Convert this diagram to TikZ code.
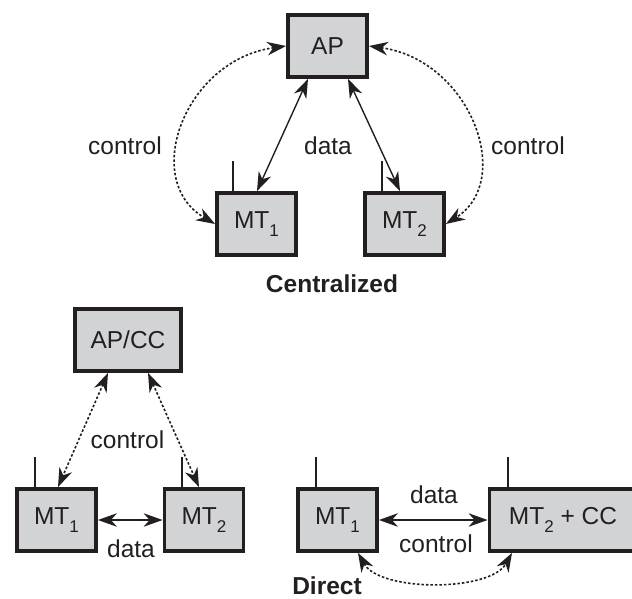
\documentclass[tikz,border=0pt]{standalone}
\usepackage{fontspec}
\setmainfont{Liberation Sans}
\usetikzlibrary{arrows.meta}
\definecolor{boxfill}{RGB}{210,211,213}
\definecolor{ink}{RGB}{35,31,32}
\newcommand\sbs[1]{\raisebox{-0.3em}{\fontsize{17}{17}\selectfont #1}}
\begin{document}
\begin{tikzpicture}[x=1pt,y=-1pt,
  font=\fontsize{24.5}{28}\selectfont,
  box/.style={draw=ink, line width=3.8pt, fill=boxfill, minimum width=79pt, minimum height=62pt, inner sep=0pt, text=ink},
  lbl/.style={anchor=base, text=ink, inner sep=0pt},
  ttl/.style={anchor=base, text=ink, inner sep=0pt, font=\fontsize{24.5}{28}\selectfont\bfseries},
  tip/.tip={Stealth[length=19pt,width=13.5pt,inset=6pt]},
  dataarrow/.style={draw=ink, line width=1.4pt, tip-tip},
  ctrl/.style={draw=ink, line width=1.6pt, dash pattern=on 2.5pt off 2pt, tip-tip},
  antenna/.style={draw=ink, line width=1.2pt}]
\useasboundingbox (0,0) rectangle (632,599);
\clip (0,0) rectangle (632,599);
% Centralized
\node[box] (AP) at (327.5,46) {AP};
\node[box] (MTa) at (256.5,224) {MT\sbs{1}};
\node[box] (MTb) at (404.5,224) {MT\sbs{2}};
\draw[antenna] ([xshift=-23.5pt]MTa.north) -- ++(0,-30);
\draw[antenna] ([xshift=-22.5pt]MTb.north) -- ++(0,-30);
\draw[dataarrow] ([xshift=-19.5pt]AP.south) -- ([xshift=0.5pt]MTa.north);
\draw[dataarrow] ([xshift=20.5pt]AP.south) -- ([xshift=-4.5pt]MTb.north);
\draw[ctrl] (AP.west) .. controls (185,60) and (140,180) .. (MTa.west);
\draw[ctrl] (AP.east) .. controls (470,60) and (515,180) .. (MTb.east);
\node[lbl] (l1) at (125,155) {control};
\node[lbl] (l2) at (328,155) {data};
\node[lbl] (l3) at (528,155) {control};
\node[ttl] (t1) at (332,292) {Centralized};
% AP/CC
\node[box, minimum width=106pt] (APCC) at (128,340) {AP/CC};
\node[box] (MTc) at (56.5,520) {MT\sbs{1}};
\node[box] (MTd) at (204,520) {MT\sbs{2}};
\draw[antenna] ([xshift=-21.5pt]MTc.north) -- ++(0,-30);
\draw[antenna] ([xshift=-22pt]MTd.north) -- ++(0,-30);
\draw[ctrl] ([xshift=-20pt]APCC.south) -- ([xshift=1.5pt]MTc.north);
\draw[ctrl] ([xshift=20pt]APCC.south) -- ([xshift=-5pt]MTd.north);
\draw[dataarrow] (MTc.east) -- (MTd.west);
\node[lbl] (l4) at (127.5,448) {control};
\node[lbl] (l5) at (131,557) {data};
% Direct
\node[box] (MTe) at (337.5,520) {MT\sbs{1}};
\node[box, minimum width=147pt] (MTf) at (563,520) {MT\sbs{2} + CC};
\draw[antenna] ([xshift=-21.5pt]MTe.north) -- ++(0,-30);
\draw[antenna] ([xshift=-55pt]MTf.north) -- ++(0,-30);
\draw[dataarrow] (MTe.east) -- (MTf.west);
\draw[ctrl] ([xshift=20.5pt]MTe.south) .. controls (380,592) and (490,592) .. ([xshift=-51pt]MTf.south);
\node[lbl] (l6) at (434,503) {data};
\node[lbl] (l7) at (436,552) {control};
\node[ttl] (t2) at (327,594) {Direct};
\end{tikzpicture}
\end{document}
